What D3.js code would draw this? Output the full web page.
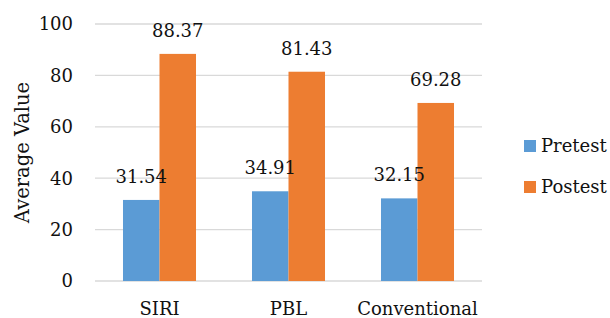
<!DOCTYPE html>
<html>
<head>
<meta charset="utf-8">
<script src="https://cdn.jsdelivr.net/npm/d3@7"></script>
<style>
  body { margin: 0; background: #fff; }
  text { font-family: "DejaVu Serif", serif; fill: #111; }
</style>
</head>
<body>
<div id="chart"></div>
<script>
const categories = ["SIRI", "PBL", "Conventional"];
const seriesNames = ["Pretest", "Postest"];
const pretest = [31.54, 34.91, 32.15];
const postest = [88.37, 81.43, 69.28];
const yTicks = [0, 20, 40, 60, 80, 100];
const colors = ["#5B9BD5", "#ED7D31"];

const W = 610, H = 318;
const plot = { left: 95, right: 482, top: 24, bottom: 281 };
const fs = "18px";

const svg = d3.select("#chart").append("svg")
  .attr("width", W).attr("height", H);

const x0 = d3.scaleBand()
  .domain(categories)
  .range([plot.left, plot.right])
  .paddingInner(0.434)
  .paddingOuter(0.217);

const x1 = d3.scaleBand()
  .domain(seriesNames)
  .range([0, x0.bandwidth()]);

const y = d3.scaleLinear().domain([0, 100]).range([plot.bottom, plot.top]);

// gridlines
svg.append("g")
  .selectAll("line")
  .data(yTicks)
  .join("line")
  .attr("x1", plot.left)
  .attr("x2", plot.right)
  .attr("y1", d => y(d))
  .attr("y2", d => y(d))
  .attr("stroke", "#d9d9d9")
  .attr("stroke-width", 1.3);

// y tick labels
svg.append("g")
  .selectAll("text")
  .data(yTicks)
  .join("text")
  .attr("x", 73)
  .attr("y", d => y(d))
  .attr("dy", "0.35em")
  .attr("text-anchor", "end")
  .style("font-size", fs)
  .text(d => d);

const rows = categories.map((c, i) => ({ cat: c, vals: [pretest[i], postest[i]] }));

const groups = svg.append("g")
  .selectAll("g")
  .data(rows)
  .join("g")
  .attr("transform", d => `translate(${x0(d.cat)},0)`);

groups.selectAll("rect")
  .data(d => d.vals.map((v, j) => ({ s: seriesNames[j], v, j })))
  .join("rect")
  .attr("x", d => x1(d.s))
  .attr("width", x1.bandwidth())
  .attr("y", d => y(d.v))
  .attr("height", d => y(0) - y(d.v))
  .attr("fill", d => colors[d.j]);

groups.selectAll("text.val")
  .data(d => d.vals.map((v, j) => ({ s: seriesNames[j], v, j })))
  .join("text")
  .attr("class", "val")
  .attr("x", d => x1(d.s) + x1.bandwidth() / 2)
  .attr("y", d => y(d.v) - 17)
  .attr("text-anchor", "middle")
  .style("font-size", fs)
  .text(d => d.v.toFixed(2));

// x labels
svg.append("g")
  .selectAll("text")
  .data(categories)
  .join("text")
  .attr("x", d => x0(d) + x0.bandwidth() / 2)
  .attr("y", 315)
  .attr("text-anchor", "middle")
  .style("font-size", fs)
  .text(d => d);

// y axis title
svg.append("text")
  .attr("transform", `translate(29, ${(plot.top + plot.bottom) / 2}) rotate(-90)`)
  .attr("text-anchor", "middle")
  .style("font-size", "19.5px")
  .text("Average Value");

// legend
const legend = svg.append("g")
  .selectAll("g")
  .data(seriesNames)
  .join("g")
  .attr("transform", (d, i) => `translate(524, ${146 + i * 41})`);

legend.append("rect")
  .attr("x", 0).attr("y", -6)
  .attr("width", 12).attr("height", 12)
  .attr("fill", (d, i) => colors[i]);

legend.append("text")
  .attr("x", 17)
  .attr("dy", "0.35em")
  .style("font-size", fs)
  .text(d => d);
</script>
</body>
</html>
